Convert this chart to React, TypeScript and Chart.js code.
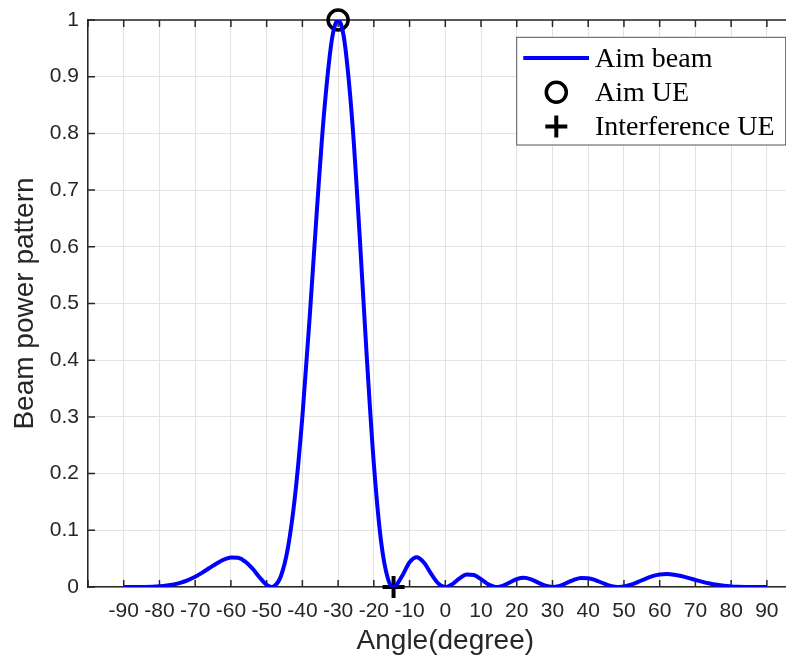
import React, { useEffect, useRef } from "react";
import { Chart, registerables } from "chart.js";

Chart.register(...registerables);

// Angle samples (degree) and beam power
const angles: number[] = [
  -90, -88, -86, -84, -82, -80, -78, -76, -74, -72, -70, -68, -66, -64, -62, -60,
  -58, -56, -54, -52, -50, -48.59, -48, -46, -44, -42, -40, -38, -36, -34, -32, -31,
  -30, -29, -28, -26, -24, -22, -20, -18, -16, -14.48, -14, -12, -10, -8, -6, -4,
  -2, 0, 2, 4, 6, 8, 10, 12, 14, 14.48, 16, 18, 20, 22, 24, 26, 28, 30, 32, 34, 36,
  38, 40, 42, 44, 46, 48, 48.59, 50, 52, 54, 56, 58, 60, 62, 64, 66, 68, 70, 72, 74,
  76, 78, 80, 82, 84, 86, 88, 90,
];
const beamPower: number[] = [
  0, 0.000002, 0.00003, 0.00015, 0.00048, 0.00118, 0.00247, 0.00458, 0.00778, 0.01229,
  0.01818, 0.02539, 0.03344, 0.04152, 0.04829, 0.05215, 0.05143, 0.04491, 0.03273,
  0.01728, 0.0038, 0, 0.00083, 0.01936, 0.07078, 0.16384, 0.30034, 0.47209, 0.65907,
  0.83087, 0.9543, 0.98851, 1, 0.9883, 0.95244, 0.81808, 0.6228, 0.40798, 0.217,
  0.08161, 0.01315, 0, 0.00103, 0.02028, 0.04355, 0.05249, 0.04314, 0.02359, 0.00633,
  0, 0.00508, 0.01517, 0.0221, 0.02127, 0.01379, 0.00495, 0.00019, 0, 0.00178,
  0.00781, 0.01393, 0.01625, 0.01356, 0.00772, 0.00219, 0, 0.00211, 0.00722, 0.01269,
  0.01593, 0.01563, 0.01213, 0.00705, 0.00249, 0.00014, 0, 0.00075, 0.00408, 0.00911,
  0.01451, 0.01905, 0.02191, 0.02276, 0.02174, 0.01929, 0.01601, 0.01242, 0.00903,
  0.00609, 0.0038, 0.00215, 0.00107, 0.00045, 0.00015, 0.00003, 0.000002, 0,
];
const aimUE = { x: -30, y: 1 };
const interferenceUE = { x: -14.48, y: 0 };
const seriesLabels = ["Aim beam", "Aim UE", "Interference UE"];
const xTitle = "Angle(degree)";
const yTitle = "Beam power pattern";

const AXIS_COLOR = "#262626";
const SANS = "'Liberation Sans', Arial, Helvetica, sans-serif";
const SERIF = "'Liberation Serif', 'Times New Roman', serif";

const framePlugin = {
  id: "matlabFrame",
  beforeDatasetsDraw(chart: any) {
    const { ctx, chartArea, scales } = chart;
    const { left, right, top, bottom } = chartArea;
    const x = scales.x;
    const y = scales.y;
    ctx.save();
    ctx.strokeStyle = AXIS_COLOR;
    ctx.lineWidth = 1.5;
    ctx.beginPath();
    ctx.moveTo(left, top);
    ctx.lineTo(right, top);
    ctx.lineTo(right, bottom);
    ctx.stroke();
    const tl = 7;
    ctx.beginPath();
    x.ticks.forEach((t: any) => {
      const px = x.getPixelForValue(t.value);
      ctx.moveTo(px, bottom);
      ctx.lineTo(px, bottom - tl);
      ctx.moveTo(px, top);
      ctx.lineTo(px, top + tl);
    });
    y.ticks.forEach((t: any) => {
      const py = y.getPixelForValue(t.value);
      ctx.moveTo(left, py);
      ctx.lineTo(left + tl, py);
      ctx.moveTo(right, py);
      ctx.lineTo(right - tl, py);
    });
    ctx.stroke();
    ctx.restore();
  },
};

const legendPlugin = {
  id: "matlabLegend",
  afterDraw(chart: any) {
    const { ctx } = chart;
    const bx = 508.7, by = 32.3, bw = 269, bh = 107.7;
    ctx.save();
    ctx.fillStyle = "#ffffff";
    ctx.fillRect(bx, by, bw, bh);
    ctx.strokeStyle = "#555555";
    ctx.lineWidth = 1;
    ctx.strokeRect(bx, by, bw, bh);
    const rows = [53, 87.3, 121.5];
    const markX = 548.3;
    const textX = 587;
    ctx.strokeStyle = "#0000ff";
    ctx.lineWidth = 4;
    ctx.beginPath();
    ctx.moveTo(515.3, rows[0]);
    ctx.lineTo(581, rows[0]);
    ctx.stroke();
    ctx.strokeStyle = "#000000";
    ctx.lineWidth = 3.5;
    ctx.beginPath();
    ctx.arc(markX, rows[1], 10, 0, Math.PI * 2);
    ctx.stroke();
    ctx.lineWidth = 4;
    ctx.beginPath();
    ctx.moveTo(markX - 11, rows[2]);
    ctx.lineTo(markX + 11, rows[2]);
    ctx.moveTo(markX, rows[2] - 11);
    ctx.lineTo(markX, rows[2] + 11);
    ctx.stroke();
    ctx.fillStyle = "#000000";
    ctx.font = `28px ${SERIF}`;
    ctx.textBaseline = "middle";
    ctx.textAlign = "left";
    seriesLabels.forEach((lab, i) => ctx.fillText(lab, textX, rows[i] + 1.5));
    ctx.restore();
  },
};

export default function App() {
  const ref = useRef<HTMLCanvasElement | null>(null);
  useEffect(() => {
    document.body.style.overflow = "hidden";
    const canvas = ref.current;
    if (!canvas) return;
    const chart = new Chart(canvas, {
      type: "line",
      data: {
        datasets: [
          {
            label: seriesLabels[0],
            data: angles.map((a, i) => ({ x: a, y: beamPower[i] })),
            borderColor: "#0000ff",
            borderWidth: 4,
            pointRadius: 0,
            cubicInterpolationMode: "monotone",
            fill: false,
          },
          {
            label: seriesLabels[1],
            data: [aimUE],
            showLine: false,
            pointStyle: "circle",
            pointRadius: 10,
            pointBorderWidth: 3.5,
            pointBorderColor: "#000000",
            pointBackgroundColor: "rgba(0,0,0,0)",
            clip: false,
          } as any,
          {
            label: seriesLabels[2],
            data: [interferenceUE],
            showLine: false,
            pointStyle: "cross",
            pointRadius: 11,
            pointBorderWidth: 4,
            pointBorderColor: "#000000",
            clip: false,
          } as any,
        ],
      },
      options: {
        responsive: false,
        animation: false,
        events: [],
        layout: { padding: { top: 8, right: 17.4, left: 0, bottom: 0 } },
        plugins: { legend: { display: false }, tooltip: { enabled: false } },
        scales: {
          x: {
            type: "linear",
            min: -100,
            max: 100,
            afterFit: (s: any) => {
              s.height = 74;
              s.paddingLeft = 0;
              s.paddingRight = 0;
            },
            ticks: {
              stepSize: 10,
              autoSkip: false,
              maxRotation: 0,
              padding: 12,
              color: AXIS_COLOR,
              font: { family: SANS, size: 21 },
              callback: (v: any) => (v < -90 || v > 90 ? "" : String(v)),
            },
            grid: { color: "#e3e3e3", lineWidth: 1, drawTicks: false },
            border: { color: AXIS_COLOR, width: 1.5 },
            title: {
              display: true,
              text: xTitle,
              color: AXIS_COLOR,
              font: { family: SANS, size: 28 },
              padding: { top: 0, bottom: 3 },
            },
          },
          y: {
            type: "linear",
            min: 0,
            max: 1,
            afterFit: (s: any) => {
              s.width = 80;
              s.paddingTop = 0;
              s.paddingBottom = 0;
            },
            ticks: {
              stepSize: 0.1,
              padding: 9,
              color: AXIS_COLOR,
              font: { family: SANS, size: 21 },
              callback: (v: any) => String(Number(Number(v).toFixed(1))),
            },
            grid: { color: "#e3e3e3", lineWidth: 1, drawTicks: false },
            border: { color: AXIS_COLOR, width: 1.5 },
            title: {
              display: true,
              text: yTitle,
              color: AXIS_COLOR,
              font: { family: SANS, size: 28 },
              padding: { top: 0, bottom: 0 },
            },
          },
        },
      },
      plugins: [framePlugin, legendPlugin],
    });
    return () => chart.destroy();
  }, []);

  return (
    <div style={{ width: 786, height: 648, overflow: "hidden", position: "relative" }}>
      <canvas ref={ref} width={812} height={656} style={{ display: "block", marginTop: -3 }} />
    </div>
  );
}
